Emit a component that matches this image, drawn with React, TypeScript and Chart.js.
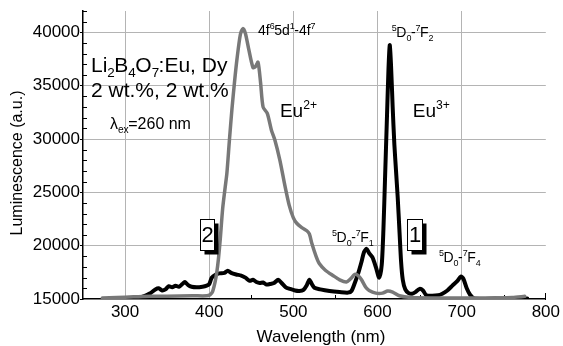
import { useEffect, useRef } from 'react';
import { Chart, registerables } from 'chart.js';

Chart.register(...registerables);

const FONT = '"Liberation Sans", Arial, Helvetica, sans-serif';

// Curve 2 (grey): Eu2+ band
const eu2Wavelength = [273, 290, 310, 330, 350, 380, 397, 401, 404, 407, 409, 411, 413, 416, 419, 421, 424, 427, 430, 433, 437, 440, 443, 447, 452, 455, 458, 461, 464, 469, 474, 478, 484, 490, 495, 500, 504, 510, 516, 519, 522, 527, 531, 538, 547, 555, 563, 568, 573, 577, 581, 586, 590, 598, 606, 612, 618, 626, 640, 680, 720, 760, 775];
const eu2Intensity = [15100, 15150, 15200, 15250, 15250, 15300, 15300, 15400, 15700, 16600, 17500, 18800, 20500, 23500, 25500, 26800, 29900, 32800, 35300, 37500, 39800, 40350, 39900, 38400, 36700, 36800, 37200, 35300, 33000, 32400, 30800, 29900, 28000, 25600, 23800, 22600, 22100, 21700, 21400, 21100, 20200, 19000, 18300, 17700, 17200, 16800, 16600, 16900, 17300, 17200, 16800, 16100, 15800, 15550, 15550, 15750, 15650, 15300, 15150, 15100, 15100, 15150, 15250];

// Curve 1 (black): Eu3+ lines
const eu3Wavelength = [313, 320, 330, 336, 340, 344, 348, 352, 356, 360, 364, 368, 371, 375, 379, 385, 392, 397, 400, 403, 408, 412, 418, 422, 426, 432, 438, 443, 448, 452, 456, 460, 464, 468, 472, 477, 482, 486, 491, 496, 502, 507, 512, 516, 519, 522, 525, 532, 543, 555, 565, 569, 573, 577, 581, 584, 587, 590, 594, 598, 602, 605, 607, 609, 611, 613, 614.5, 616, 618, 620, 622, 624, 626, 628, 630, 633, 637, 641, 645, 650, 654, 658, 665, 672, 677, 683, 689, 695, 699, 702, 706, 710, 715, 725, 740, 760, 778];
const eu3Intensity = [15000, 15200, 15550, 15900, 16000, 15800, 15900, 16200, 16100, 16250, 16150, 16400, 16600, 16300, 16150, 16100, 16150, 16250, 16400, 17000, 17300, 17400, 17450, 17650, 17450, 17300, 17200, 17000, 16700, 16800, 16600, 16500, 16550, 16350, 16400, 16500, 16800, 16500, 16100, 15950, 15800, 15750, 15850, 16300, 16800, 16400, 16050, 15900, 15750, 15650, 15600, 15750, 16500, 17400, 18500, 19400, 19700, 19300, 18900, 18000, 17000, 18200, 21500, 26500, 31500, 36500, 38800, 37000, 33000, 29500, 27000, 24500, 21500, 18500, 16800, 15900, 15550, 15500, 15650, 15950, 15800, 15350, 15300, 15350, 15500, 15800, 16250, 16700, 17100, 16900, 16000, 15400, 15050, 15000, 15050, 15000, 15050];

const xTickValues = [300, 400, 500, 600, 700, 800];
const yTickValues = [15000, 20000, 25000, 30000, 35000, 40000];

type Part = [string, 'n' | 'sup' | 'sub'];

function drawRich(ctx: CanvasRenderingContext2D, x: number, y: number, parts: Part[], size: number) {
  let cx = x;
  for (const [t, k] of parts) {
    const fs = k === 'n' ? size : size * 0.64;
    const dy = k === 'sup' ? -size * 0.42 : k === 'sub' ? size * 0.26 : 0;
    ctx.font = `${fs}px ${FONT}`;
    ctx.fillText(t, cx, y + dy);
    cx += ctx.measureText(t).width + (k === 'n' ? 0 : -0.5);
  }
}

const decorPlugin = {
  id: 'decor',
  beforeDatasetsDraw(chart: any) {
    const { ctx, scales, chartArea } = chart;
    const xs = scales.x;
    const ys = scales.y;
    ctx.save();
    ctx.strokeStyle = '#000';
    ctx.lineWidth = 1;
    for (let v = 16000; v <= 42000; v += 1000) {
      if (v % 5000 === 0) continue;
      const py = Math.round(ys.getPixelForValue(v)) + 0.5;
      ctx.beginPath();
      ctx.moveTo(chartArea.left, py);
      ctx.lineTo(chartArea.left + 4, py);
      ctx.stroke();
    }
    for (let v = 350; v <= 750; v += 100) {
      const px = Math.round(xs.getPixelForValue(v)) + 0.5;
      ctx.beginPath();
      ctx.moveTo(px, chartArea.bottom);
      ctx.lineTo(px, chartArea.bottom - 4);
      ctx.stroke();
    }
    const p8 = Math.round(xs.getPixelForValue(800)) - 0.5;
    ctx.beginPath();
    ctx.moveTo(p8, chartArea.bottom + 1);
    ctx.lineTo(p8, chartArea.bottom - 6);
    ctx.stroke();
    ctx.restore();
  },
  afterDatasetsDraw(chart: any) {
    const { ctx, scales } = chart;
    const X = (v: number) => scales.x.getPixelForValue(v);
    const Y = (v: number) => scales.y.getPixelForValue(v);
    ctx.save();
    ctx.fillStyle = '#000';
    ctx.textBaseline = 'alphabetic';
    ctx.textAlign = 'left';

    drawRich(ctx, X(259.5), Y(36280), [['Li', 'n'], ['2', 'sub'], ['B', 'n'], ['4', 'sub'], ['O', 'n'], ['7', 'sub'], [':Eu, Dy', 'n']], 21);
    drawRich(ctx, X(259.5), Y(33940), [['2 wt.%, 2 wt.%', 'n']], 21);
    drawRich(ctx, X(282), Y(30940), [['\u03bb', 'n'], ['ex', 'sub'], ['=260 nm', 'n']], 16);
    drawRich(ctx, X(458), Y(39750), [['4f', 'n'], ['6', 'sup'], ['5d', 'n'], ['1', 'sup'], ['-4f', 'n'], ['7', 'sup']], 14);
    drawRich(ctx, X(617), Y(39560), [['5', 'sup'], ['D', 'n'], ['0', 'sub'], ['-', 'n'], ['7', 'sup'], ['F', 'n'], ['2', 'sub']], 14);
    drawRich(ctx, X(484), Y(32060), [['Eu', 'n'], ['2+', 'sup']], 19);
    drawRich(ctx, X(642), Y(32060), [['Eu', 'n'], ['3+', 'sup']], 19);
    drawRich(ctx, X(546), Y(20340), [['5', 'sup'], ['D', 'n'], ['0', 'sub'], ['-', 'n'], ['7', 'sup'], ['F', 'n'], ['1', 'sub']], 14);
    drawRich(ctx, X(673), Y(18470), [['5', 'sup'], ['D', 'n'], ['0', 'sub'], ['-', 'n'], ['7', 'sup'], ['F', 'n'], ['4', 'sub']], 14);

    const box = (wl0: number, wl1: number, v0: number, v1: number, label: string) => {
      const l = Math.round(X(wl0)) + 0.5;
      const r = Math.round(X(wl1)) + 0.5;
      const t = Math.round(Y(v0)) + 0.5;
      const b = Math.round(Y(v1)) + 0.5;
      ctx.fillStyle = '#000';
      ctx.fillRect(l + 4, t + 4, r - l, b - t);
      ctx.fillStyle = '#fff';
      ctx.fillRect(l, t, r - l, b - t);
      ctx.strokeStyle = '#000';
      ctx.lineWidth = 1;
      ctx.strokeRect(l, t, r - l, b - t);
      ctx.fillStyle = '#000';
      ctx.font = `22px ${FONT}`;
      ctx.textAlign = 'center';
      ctx.textBaseline = 'middle';
      ctx.fillText(label, (l + r) / 2, (t + b) / 2 + 1);
      ctx.textAlign = 'left';
      ctx.textBaseline = 'alphabetic';
    };
    box(635, 653, 22500, 19590, '1');
    box(389, 405.6, 22500, 19590, '2');

    ctx.fillStyle = '#000';
    ctx.font = `17px ${FONT}`;
    ctx.textAlign = 'center';
    ctx.fillText('Wavelength (nm)', 321, 342);
    ctx.save();
    ctx.translate(22, 163);
    ctx.rotate(-Math.PI / 2);
    ctx.font = `16px ${FONT}`;
    ctx.fillText('Luminescence (a.u.)', 0, 0);
    ctx.restore();
    ctx.restore();
  },
};

export default function App() {
  const ref = useRef<HTMLCanvasElement>(null);
  useEffect(() => {
    document.body.style.margin = '0';
    const eu2Points = eu2Wavelength.map((w, i) => ({ x: w, y: eu2Intensity[i] }));
    const eu3Points = eu3Wavelength.map((w, i) => ({ x: w, y: eu3Intensity[i] }));
    const transparent = 'rgba(0,0,0,0)';
    const chart = new Chart(ref.current as HTMLCanvasElement, {
      type: 'line',
      data: {
        datasets: [
          { label: '2', data: eu2Points, borderColor: '#787878', borderWidth: 3.5, pointRadius: 0, tension: 0.25, fill: false },
          { label: '1', data: eu3Points, borderColor: '#000000', borderWidth: 4, pointRadius: 0, tension: 0.25, fill: false },
        ],
      },
      options: {
        responsive: false,
        devicePixelRatio: 1,
        animation: false,
        events: [],
        layout: { padding: { top: 11, right: 17, left: 0, bottom: 0 } },
        elements: { line: { borderJoinStyle: 'round', borderCapStyle: 'round' } },
        plugins: { legend: { display: false }, tooltip: { enabled: false }, title: { display: false } },
        scales: {
          x: {
            type: 'linear',
            min: 250,
            max: 800,
            afterBuildTicks: (s: any) => { s.ticks = xTickValues.map((v) => ({ value: v })); },
            afterFit: (s: any) => { s.height = 47; },
            grid: {
              color: (c: any) => (c.tick && c.tick.value === 800 ? transparent : '#b4b4b4'),
              lineWidth: 1,
              drawTicks: false,
            },
            border: { color: '#000', width: 1.5 },
            ticks: { font: { family: FONT, size: 17 }, color: '#000', padding: 3, maxRotation: 0, autoSkip: false },
          },
          y: {
            type: 'linear',
            min: 15000,
            max: 42000,
            afterBuildTicks: (s: any) => { s.ticks = yTickValues.map((v) => ({ value: v })); },
            afterFit: (s: any) => { s.width = 83; },
            grid: {
              color: (c: any) => (c.tick && c.tick.value === 15000 ? transparent : '#b4b4b4'),
              tickColor: '#000',
              tickLength: 3,
              lineWidth: 1,
              drawTicks: true,
            },
            border: { color: '#000', width: 1.5 },
            ticks: { font: { family: FONT, size: 17 }, color: '#000', padding: 0, autoSkip: false, callback: (v: any) => String(v) },
          },
        },
      },
      plugins: [decorPlugin],
    } as any);
    return () => chart.destroy();
  }, []);
  return (
    <div style={{ width: 563, height: 346, position: 'relative' }}>
      <canvas ref={ref} width={563} height={346} style={{ display: 'block' }} />
    </div>
  );
}
